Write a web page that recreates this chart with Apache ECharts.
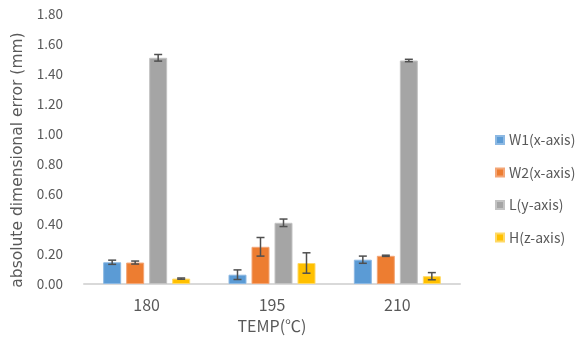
<!DOCTYPE html>
<html>
<head>
<meta charset="utf-8">
<script src="https://cdn.jsdelivr.net/npm/echarts@6/dist/echarts.min.js"></script>
<style>html,body{margin:0;padding:0;background:#fff;}#c{width:576px;height:349px;}</style>
</head>
<body>
<div id="c"></div>
<script>
var categories = ['180', '195', '210'];
var seriesNames = ['W1(x-axis)', 'W2(x-axis)', 'L(y-axis)', 'H(z-axis)'];
var w1 = [0.145, 0.062, 0.162];
var w2 = [0.143, 0.248, 0.188];
var l = [1.508, 0.408, 1.490];
var h = [0.036, 0.140, 0.052];
var w1Err = [0.014, 0.032, 0.024];
var w2Err = [0.010, 0.062, 0.004];
var lErr = [0.022, 0.025, 0.008];
var hErr = [0.004, 0.068, 0.024];
var yTicks = [0, 0.2, 0.4, 0.6, 0.8, 1.0, 1.2, 1.4, 1.6, 1.8];

var values = [w1, w2, l, h];
var errs = [w1Err, w2Err, lErr, hErr];
var colors = ['#5B9BD5', '#ED7D31', '#A5A5A5', '#FFC000'];
var borders = ['#8DB9E3', '#F3A677', '#C3C3C3', '#FFD966'];
var BAR_W = 18, BAR_GAP = 5;
var font = '"Noto Sans CJK KR", "Noto Sans", sans-serif';

var series = [];
values.forEach(function (vals, i) {
  series.push({
    name: seriesNames[i], type: 'bar', data: vals, barWidth: BAR_W, barGap: (BAR_GAP / BAR_W * 100) + '%',
    itemStyle: { color: colors[i], borderColor: borders[i], borderWidth: 1 }
  });
});
values.forEach(function (vals, i) {
  series.push({
    type: 'custom', name: seriesNames[i] + ' err', z: 10, silent: true,
    data: vals.map(function (v, k) { return [k, v - errs[i][k], v + errs[i][k]]; }),
    renderItem: function (params, api) {
      var k = api.value(0);
      var lo = api.coord([k, api.value(1)]);
      var hi = api.coord([k, api.value(2)]);
      var off = (i - 1.5) * (BAR_W + BAR_GAP);
      var x = lo[0] + off, hw = 4;
      var st = { stroke: '#4F4F4F', lineWidth: 1.5 };
      return { type: 'group', children: [
        { type: 'line', shape: { x1: x, y1: lo[1], x2: x, y2: hi[1] }, style: st },
        { type: 'line', shape: { x1: x - hw, y1: lo[1], x2: x + hw, y2: lo[1] }, style: st },
        { type: 'line', shape: { x1: x - hw, y1: hi[1], x2: x + hw, y2: hi[1] }, style: st }
      ]};
    },
    encode: { x: 0, y: [1, 2] }
  });
});

var chart = echarts.init(document.getElementById('c'), null, { renderer: 'canvas' });
chart.setOption({
  animation: false,
  textStyle: { fontFamily: font },
  grid: { left: 84, right: 116, top: 14, bottom: 65 },
  legend: {
    data: seriesNames, orient: 'vertical', left: 490, top: 128,
    itemWidth: 8, itemHeight: 8, itemGap: 18.5, icon: 'rect',
    textStyle: { fontSize: 14, color: '#595959', fontFamily: font }
  },
  xAxis: {
    type: 'category', data: categories,
    name: 'TEMP(℃)', nameLocation: 'middle', nameGap: 34,
    nameTextStyle: { fontSize: 16, color: '#595959' },
    axisLine: { lineStyle: { color: '#D9D9D9', width: 2 } },
    axisTick: { show: false },
    axisLabel: { fontSize: 16, color: '#595959', margin: 13 }
  },
  yAxis: {
    type: 'value', min: 0, max: 1.8, interval: 0.2,
    name: 'absolute dimensional error (mm)', nameLocation: 'middle', nameGap: 58,
    nameTextStyle: { fontSize: 15.5, color: '#595959', fontFamily: '"DejaVu Sans", sans-serif', padding: [0, 22, 0, 0] },
    axisLine: { show: false }, axisTick: { show: false }, splitLine: { show: false },
    axisLabel: { fontSize: 13.5, color: '#595959', margin: 21,
      formatter: function (v) { return v.toFixed(2); } }
  },
  series: series
});
</script>
</body>
</html>
